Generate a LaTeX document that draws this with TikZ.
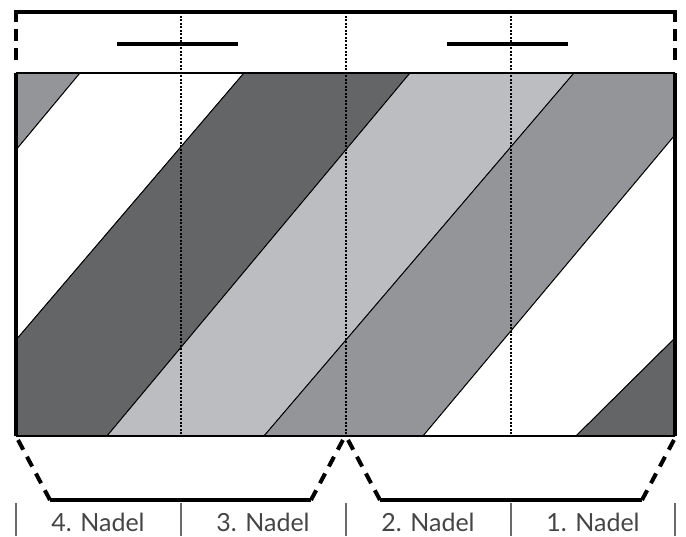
\documentclass[tikz,border=0pt]{standalone}
\usepackage{fontspec}
\setmainfont{Lato}
\usepackage{xcolor}
\usetikzlibrary{positioning}
\definecolor{darkstripe}{HTML}{646567}
\definecolor{midstripe}{HTML}{939598}
\definecolor{lightstripe}{HTML}{BCBDC0}
\definecolor{labelgrey}{HTML}{454545}

\begin{document}
\begin{tikzpicture}[x=1pt, y=-1pt,
        stripe/.style={draw=black, line width=0.9pt, line join=round},
        frame/.style={line width=4pt},
        bracket/.style={line width=4pt, dash pattern=on 11pt off 8pt},
        needle/.style={line width=1.1pt, dash pattern=on 2pt off 1.5pt},
        divider/.style={draw=labelgrey!80, line width=1.3pt},
        nadel/.style={font=\fontsize{25}{25}\selectfont, text=labelgrey, anchor=base, inner sep=0pt}]
    \useasboundingbox (0,0) rectangle (686,536);
    \coordinate (TL) at (16,73);
    \coordinate (TR) at (675,73);
    \coordinate (BL) at (16,436);
    \coordinate (BR) at (675,436);
    % stripes
    \filldraw[stripe, fill=midstripe]   (TL) -- (80,73) -- (16,150) -- cycle;
    \filldraw[stripe, fill=white]       (80,73) -- (244,73) -- (16,340) -- (16,150) -- cycle;
    \filldraw[stripe, fill=darkstripe]  (244,73) -- (410,73) -- (107,436) -- (BL) -- (16,340) -- cycle;
    \filldraw[stripe, fill=lightstripe] (410,73) -- (574,73) -- (264,436) -- (107,436) -- cycle;
    \filldraw[stripe, fill=midstripe]   (574,73) -- (TR) -- (675,135) -- (423,436) -- (264,436) -- cycle;
    \filldraw[stripe, fill=white]       (675,135) -- (675,338) -- (576,436) -- (423,436) -- cycle;
    \filldraw[stripe, fill=darkstripe]  (675,338) -- (BR) -- (576,436) -- cycle;
    % needles
    \foreach \x in {181,346,511}
        \draw[needle] (\x,12) -- (\x,436);
    % piece outline
    \draw[line width=1.5pt] (TL) -- (TR);
    \draw[line width=1.5pt] (BL) -- (BR);
    \draw[frame] (TL) -- (BL);
    \draw[frame] (TR) -- (BR);
    % top bracket
    \draw[frame] (14,12) -- (677,12);
    \draw[bracket, dash pattern=on 12pt off 7pt] (16,10) -- (16,62);
    \draw[bracket, dash pattern=on 12pt off 7pt] (675,10) -- (675,62);
    \draw[frame] (117,44) -- (238,44);
    \draw[frame] (447,44) -- (568,44);
    % bottom brackets
    \draw[bracket] (50,500) -- (17,438);
    \draw[frame] (50,500) -- (311,500);
    \draw[bracket] (311,500) -- (344,438);
    \draw[bracket] (380,500) -- (347,438);
    \draw[frame] (380,500) -- (642,500);
    \draw[bracket] (642,500) -- (675,438);
    % needle labels
    \foreach \x in {16,181,346,511,675}
        \draw[divider] (\x,503) -- (\x,536);
    \node[nadel] (n4) at (98,531)  {4. Nadel};
    \node[nadel] (n3) at (263,531) {3. Nadel};
    \node[nadel] (n2) at (428,531) {2. Nadel};
    \node[nadel] (n1) at (593,531) {1. Nadel};
\end{tikzpicture}
\end{document}
